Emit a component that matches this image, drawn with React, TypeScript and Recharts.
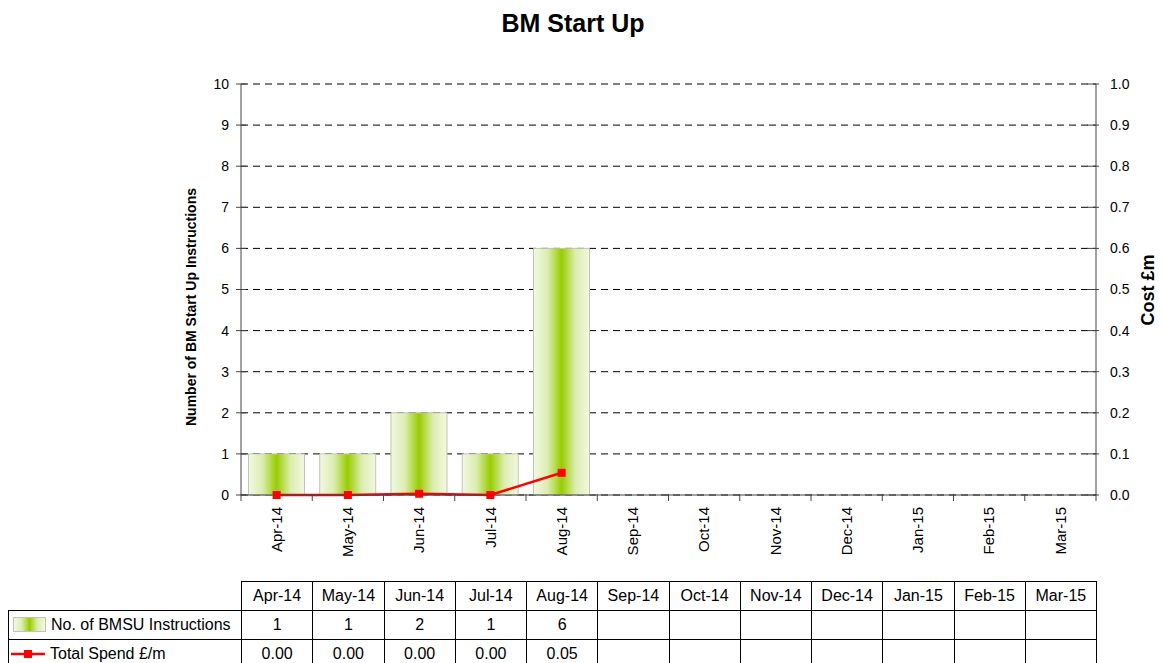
import { ComposedChart, Bar, Line, XAxis, YAxis, CartesianGrid } from "recharts";

const months = ["Apr-14", "May-14", "Jun-14", "Jul-14", "Aug-14", "Sep-14", "Oct-14", "Nov-14", "Dec-14", "Jan-15", "Feb-15", "Mar-15"];
const instructions = [1, 1, 2, 1, 6, null, null, null, null, null, null, null];
const totalSpend = [0, 0, 0.003, 0, 0.054, null, null, null, null, null, null, null];
const leftTicks = [0, 1, 2, 3, 4, 5, 6, 7, 8, 9, 10];
const rightTicks = [0, 0.1, 0.2, 0.3, 0.4, 0.5, 0.6, 0.7, 0.8, 0.9, 1.0];

const data = months.map((month, i) => ({ month, count: instructions[i], spend: totalSpend[i] }));

const FONT = '"Liberation Sans", Arial, Helvetica, sans-serif';
const AXIS = "#444";
const PLOT_LEFT = 241;
const PLOT_RIGHT = 1096;
const PLOT_TOP = 84;
const PLOT_BOTTOM = 495;
const BAND = (PLOT_RIGHT - PLOT_LEFT) / months.length;
const GRAD = "linear-gradient(to right, #f2f8e2, #dcedb0 25%, #99cc00 50%, #dcedb0 75%, #f2f8e2)";

const LeftTick = (p: any) => (
  <g>
    <line x1={PLOT_LEFT - 5} x2={PLOT_LEFT + 5} y1={p.y} y2={p.y} stroke={AXIS} />
    <text x={229} y={p.y} dy="0.35em" textAnchor="end" fontSize={14} fill="#000" fontFamily={FONT}>
      {p.payload.value}
    </text>
  </g>
);

const RightTick = (p: any) => (
  <g>
    <line x1={PLOT_RIGHT - 9} x2={PLOT_RIGHT + 3} y1={p.y} y2={p.y} stroke={AXIS} />
    <text x={1110} y={p.y} dy="0.35em" textAnchor="start" fontSize={14} fill="#000" fontFamily={FONT}>
      {Number(p.payload.value).toFixed(1)}
    </text>
  </g>
);

const XTick = (p: any) => {
  const half = p.payload?.offset || BAND / 2;
  const x = p.x;
  return (
    <g>
      <line x1={x - half} x2={x - half} y1={PLOT_BOTTOM - 1} y2={PLOT_BOTTOM + 6} stroke={AXIS} />
      {p.index === months.length - 1 && (
        <line x1={x + half} x2={x + half} y1={PLOT_BOTTOM - 1} y2={PLOT_BOTTOM + 6} stroke={AXIS} />
      )}
      <text
        transform={`translate(${x},${PLOT_BOTTOM + 12}) rotate(-90)`}
        textAnchor="end"
        dy="0.35em"
        fontSize={15}
        fill="#000"
        fontFamily={FONT}
      >
        {p.payload.value}
      </text>
    </g>
  );
};

const SquareDot = (p: any) => {
  if (p.value == null || p.cx == null) return <g key={p.index} />;
  return <rect key={p.index} x={p.cx - 4} y={p.cy - 4} width={8} height={8} fill="#ff0000" />;
};

const cell = { border: "1px solid #000", textAlign: "center" as const, height: 28, padding: 0 };

const App = () => {
  return (
    <div style={{ position: "absolute", left: 0, top: 0, width: 1164, height: 663, background: "#fff", fontFamily: FONT, overflow: "hidden" }}>
      <div style={{ position: "absolute", left: 0, top: 0 }}>
        <ComposedChart
          width={1164}
          height={575}
          data={data}
          margin={{ top: PLOT_TOP, right: 1164 - PLOT_RIGHT - 60, bottom: 0, left: PLOT_LEFT - 60 }}
          barCategoryGap="10.5%"
        >
          <defs>
            <linearGradient id="barGrad" x1="0" y1="0" x2="1" y2="0">
              <stop offset="0%" stopColor="#f2f8e2" />
              <stop offset="25%" stopColor="#dcedb0" />
              <stop offset="50%" stopColor="#99cc00" />
              <stop offset="75%" stopColor="#dcedb0" />
              <stop offset="100%" stopColor="#f2f8e2" />
            </linearGradient>
          </defs>
          <CartesianGrid vertical={false} stroke="#000" strokeDasharray="7 5" />
          <XAxis dataKey="month" interval={0} height={80} tickLine={false} axisLine={{ stroke: AXIS }} tick={<XTick />} />
          <YAxis
            domain={[0, 10]}
            ticks={leftTicks}
            width={60}
            interval={0}
            tickLine={false}
            axisLine={{ stroke: AXIS }}
            tick={<LeftTick />}
          />
          <YAxis
            yAxisId="right"
            orientation="right"
            domain={[0, 1]}
            ticks={rightTicks}
            width={60}
            interval={0}
            tickLine={false}
            axisLine={{ stroke: AXIS }}
            tick={<RightTick />}
          />
          <Bar dataKey="count" fill="url(#barGrad)" stroke="#c4c4b4" strokeWidth={1} isAnimationActive={false} />
          <Line
            yAxisId="right"
            dataKey="spend"
            type="linear"
            stroke="#ff0000"
            strokeWidth={2.5}
            dot={<SquareDot />}
            activeDot={false}
            isAnimationActive={false}
          />
        </ComposedChart>
      </div>
      <svg width={1164} height={663} style={{ position: "absolute", left: 0, top: 0, pointerEvents: "none" }}>
        <text x={573} y={32} textAnchor="middle" fontSize={25} fontWeight="bold" fontFamily={FONT}>
          BM Start Up
        </text>
        <text transform="translate(196,307) rotate(-90)" textAnchor="middle" fontSize={14} fontWeight="bold" fontFamily={FONT}>
          Number of BM Start Up Instructions
        </text>
        <text transform="translate(1154,290) rotate(-90)" textAnchor="middle" fontSize={18} fontWeight="bold" fontFamily={FONT}>
          Cost £m
        </text>
      </svg>
      <table
        style={{
          position: "absolute",
          left: 8,
          top: 581,
          borderCollapse: "collapse",
          tableLayout: "fixed",
          width: PLOT_RIGHT - 8,
          fontSize: 16,
          fontFamily: FONT,
        }}
      >
        <colgroup>
          <col style={{ width: PLOT_LEFT - 8 }} />
          {months.map((m) => (
            <col key={m} style={{ width: BAND }} />
          ))}
        </colgroup>
        <tbody>
          <tr>
            <td style={{ height: 28, padding: 0, border: "none" }} />
            {months.map((m) => (
              <td key={m} style={cell}>{m}</td>
            ))}
          </tr>
          <tr>
            <td style={{ ...cell, textAlign: "left", whiteSpace: "nowrap" }}>
              <span
                style={{
                  display: "inline-block",
                  width: 31,
                  height: 13,
                  margin: "0 5px 0 4px",
                  verticalAlign: "-2px",
                  border: "1px solid #c4c4b4",
                  background: GRAD,
                }}
              />
              No. of BMSU Instructions
            </td>
            {instructions.map((v, i) => (
              <td key={i} style={cell}>{v == null ? "" : v}</td>
            ))}
          </tr>
          <tr>
            <td style={{ ...cell, textAlign: "left", whiteSpace: "nowrap" }}>
              <svg width={34} height={12} style={{ verticalAlign: "-1px", margin: "0 5px 0 2px" }}>
                <line x1={0} x2={34} y1={6} y2={6} stroke="#ff0000" strokeWidth={2.5} />
                <rect x={13} y={2} width={8} height={8} fill="#ff0000" />
              </svg>
              Total Spend £/m
            </td>
            {totalSpend.map((v, i) => (
              <td key={i} style={cell}>{v == null ? "" : v.toFixed(2)}</td>
            ))}
          </tr>
        </tbody>
      </table>
    </div>
  );
};

export default App;
